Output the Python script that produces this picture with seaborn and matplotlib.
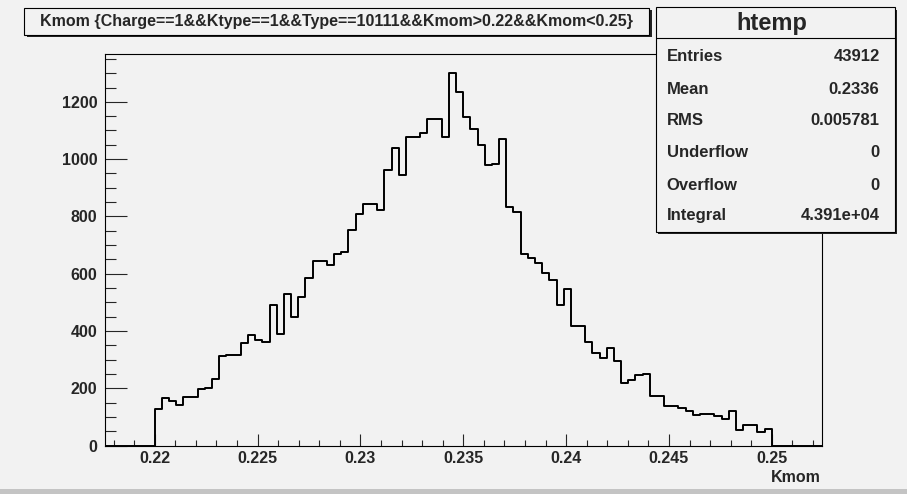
import numpy as np
import pandas as pd
import matplotlib
matplotlib.use("Agg")
import matplotlib.pyplot as plt
from matplotlib.patches import Rectangle
from matplotlib.ticker import MultipleLocator
import seaborn as sns

# ---------------- data ----------------
cut_lo = 0.22
cut_hi = 0.25
n_filled = 86          # bins between the cuts
n_pad = 7              # empty bins on each side (ROOT auto range)
counts = [128, 165, 155, 142, 171, 171, 196, 200, 233, 311, 317, 317, 358, 385, 367, 361, 490, 390,
          530, 448, 519, 586, 643, 643, 630, 670, 676, 754, 810, 843, 843, 821, 962, 1038, 945,
          1078, 1078, 1090, 1139, 1139, 1078, 1302, 1234, 1146, 1106, 1050, 978, 982, 1072, 833, 816, 670, 653,
          637, 604, 579, 490, 547, 418, 418, 362, 323, 307, 340, 294, 217, 227, 245, 250,
          172, 172, 139, 139, 132, 121, 105, 111, 111, 104, 93, 121, 53, 71, 71, 48, 59]
title_text = "Kmom {Charge==1&&Ktype==1&&Type==10111&&Kmom>0.22&&Kmom<0.25}"
stat_name = "htemp"
stat_labels = ["Entries", "Mean", "RMS", "Underflow", "Overflow", "Integral"]
stat_values = ["43912", "0.2336", "0.005781", "0", "0", "4.391e+04"]
x_label = "Kmom"
x_ticks = [0.22, 0.225, 0.23, 0.235, 0.24, 0.245, 0.25]
x_ticklabels = ["0.22", "0.225", "0.23", "0.235", "0.24", "0.245", "0.25"]
y_ticks = [0, 200, 400, 600, 800, 1000, 1200]

# ---------------- build histogram table ----------------
w = (cut_hi - cut_lo) / n_filled
lo = cut_lo - n_pad * w
n_total = n_filled + 2 * n_pad
hi = lo + n_total * w
edges = lo + w * np.arange(n_total + 1)
centers = 0.5 * (edges[:-1] + edges[1:])
weights = np.array([0] * n_pad + counts + [0] * n_pad, dtype=float)
df = pd.DataFrame({"Kmom": centers, "w": weights})

# ---------------- style ----------------
sns.set_style("ticks")
BG = "#f2f2f2"
FONT = ["Liberation Sans", "Arial", "DejaVu Sans"]
plt.rcParams["font.family"] = FONT
plt.rcParams["font.weight"] = "bold"

W, H = 907, 494
fig = plt.figure(figsize=(W / 100, H / 100), dpi=100)
fig.patch.set_facecolor(BG)

def fx(px):
    return px / W

def fy(py):
    return 1 - py / H

ax_l, ax_r, ax_b, ax_t = 104.5, 822, 445.5, 54
ax = fig.add_axes([fx(ax_l), fy(ax_b), fx(ax_r - ax_l), (ax_b - ax_t) / H])
ax.set_facecolor(BG)

sns.histplot(data=df, x="Kmom", weights="w", bins=n_total, binrange=(lo, hi),
             element="step", fill=False, color="black", linewidth=1.4, ax=ax)

ax.set_xlim(lo, hi)
ax.set_ylim(0, max(counts) * 1.05)
ax.set_xticks(x_ticks)
ax.set_xticklabels(x_ticklabels)
ax.set_yticks(y_ticks)
ax.xaxis.set_minor_locator(MultipleLocator(0.001))
ax.yaxis.set_minor_locator(MultipleLocator(50))
ax.tick_params(axis="x", which="major", direction="in", length=8.6, width=0.8, pad=4,
               labelsize=11.5, top=False)
ax.tick_params(axis="x", which="minor", direction="in", length=4.3, width=0.8, top=False)
ax.tick_params(axis="y", which="major", direction="in", length=15.6, width=0.8, pad=5,
               labelsize=11.5, right=False)
ax.tick_params(axis="y", which="minor", direction="in", length=7.7, width=0.8, right=False)
for lab in ax.get_xticklabels() + ax.get_yticklabels():
    lab.set_fontweight("bold")
for s in ax.spines.values():
    s.set_visible(True)
    s.set_linewidth(0.8)
    s.set_color("black")
ax.set_xlabel("")
ax.set_ylabel("")
fig.text(fx(821), fy(477), x_label, ha="right", va="center", fontsize=11.5, fontweight="bold")

# ---------------- boxes ----------------
def box(x0, y0, x1, y1, shadow=2.5):
    fig.patches.append(Rectangle((fx(x0 + shadow), fy(y1 + shadow)), fx(x1 - x0), (y1 - y0) / H,
                                 transform=fig.transFigure, facecolor="#222222", edgecolor="none",
                                 zorder=5))
    fig.patches.append(Rectangle((fx(x0), fy(y1)), fx(x1 - x0), (y1 - y0) / H,
                                 transform=fig.transFigure, facecolor=BG, edgecolor="black",
                                 linewidth=0.8, zorder=6))

# title box
box(24, 8, 649, 35)
fig.text(fx(336.5), fy(21.5), title_text, ha="center", va="center", fontsize=11.5,
         fontweight="bold", zorder=7)

# stat box
sx0, sy0, sx1, sy1 = 655.5, 7.5, 894.5, 231.5
box(sx0, sy0, sx1, sy1)
fig.add_artist(plt.Line2D([fx(sx0), fx(sx1)], [fy(38.5), fy(38.5)], transform=fig.transFigure,
                          color="black", linewidth=0.8, zorder=7))
fig.text(fx(772), fy(23.5), stat_name, ha="center", va="center", fontsize=17,
         fontweight="bold", zorder=7)
row_y = [56.7, 89.3, 120.7, 152.7, 185, 215]
for lab, val, yy in zip(stat_labels, stat_values, row_y):
    fig.text(fx(666.5), fy(yy), lab, ha="left", va="center", fontsize=12, fontweight="bold", zorder=7)
    fig.text(fx(879.5), fy(yy), val, ha="right", va="center", fontsize=12, fontweight="bold", zorder=7)

# canvas bottom strip
fig.patches.append(Rectangle((0, 0), 1, 5 / H, transform=fig.transFigure,
                             facecolor="#c4c4c4", edgecolor="none", zorder=1))

fig.savefig("out.png", dpi=100, facecolor=BG)
